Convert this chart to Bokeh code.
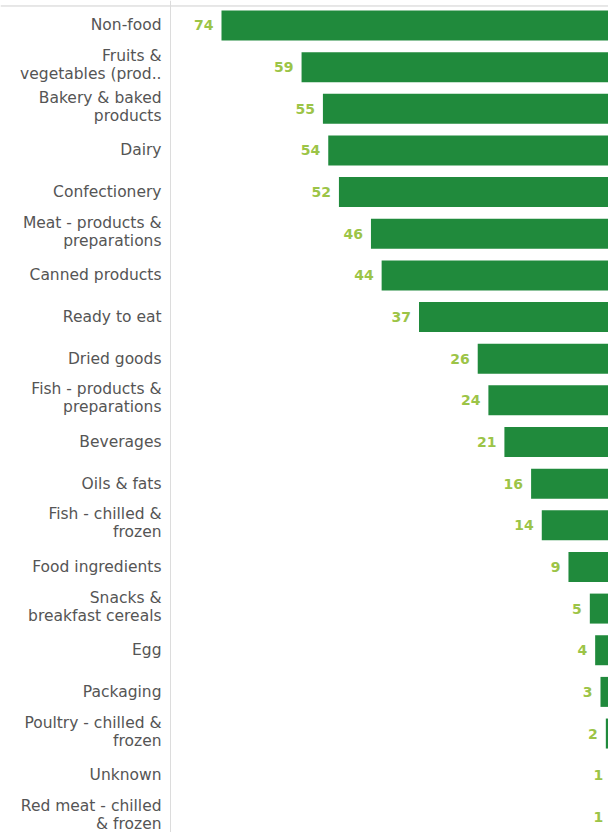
from bokeh.plotting import figure
from bokeh.models import Range1d, ColumnDataSource, Span
from bokeh.core.properties import value
from bokeh.embed import file_html
from bokeh.resources import INLINE

categories = [
    "Non-food", "Fruits &\nvegetables (prod..", "Bakery & baked\nproducts", "Dairy",
    "Confectionery", "Meat - products &\npreparations", "Canned products", "Ready to eat",
    "Dried goods", "Fish - products &\npreparations", "Beverages", "Oils & fats",
    "Fish - chilled &\nfrozen", "Food ingredients", "Snacks &\nbreakfast cereals", "Egg",
    "Packaging", "Poultry - chilled &\nfrozen", "Unknown", "Red meat - chilled\n& frozen",
]
counts = [74, 59, 55, 54, 52, 46, 44, 37, 26, 24, 21, 16, 14, 9, 5, 4, 3, 2, 1, 1]

AXIS_AT = 83.55  # value where the category axis line sits (left end of the bar area)

rows = list(range(len(categories)))
src = ColumnDataSource(dict(
    row=rows, count=counts, label=[str(c) for c in counts],
    cat=categories, axis=[AXIS_AT] * len(rows),
    lift=[-2 if "\n" in c else 0 for c in categories],
))

p = figure(width=608, height=832, output_backend="svg", toolbar_location=None,
           x_range=Range1d(115.4, 1.50), y_range=Range1d(19.376, -0.600),
           min_border_left=0, min_border_right=0, min_border_top=0, min_border_bottom=0)

p.hbar(y="row", left=0, right="count", height=0.72, source=src,
       fill_color="#208a3c", line_color=None)
p.text(x="count", y="row", text="label", source=src, x_offset=-8,
       text_align="right", text_baseline="middle", text_font=value("DejaVu Sans"),
       text_font_size="14px", text_font_style="bold", text_color="#9cc447")

# category labels, right-aligned against the axis line
p.text(x="axis", y="row", text="cat", source=src, x_offset=-9, y_offset="lift",
       text_align="right", text_baseline="middle", text_font=value("DejaVu Sans"),
       text_font_size="15.5px", text_color="#555555", text_line_height=1.0)

p.add_layout(Span(location=-0.468, dimension="width", line_color="#cfcfcf", line_width=1))
p.add_layout(Span(location=AXIS_AT, dimension="height", line_color="#dcdcdc", line_width=1))

p.axis.visible = False
p.grid.visible = False
p.outline_line_color = None

open("out.html", "w").write(file_html(p, INLINE))
